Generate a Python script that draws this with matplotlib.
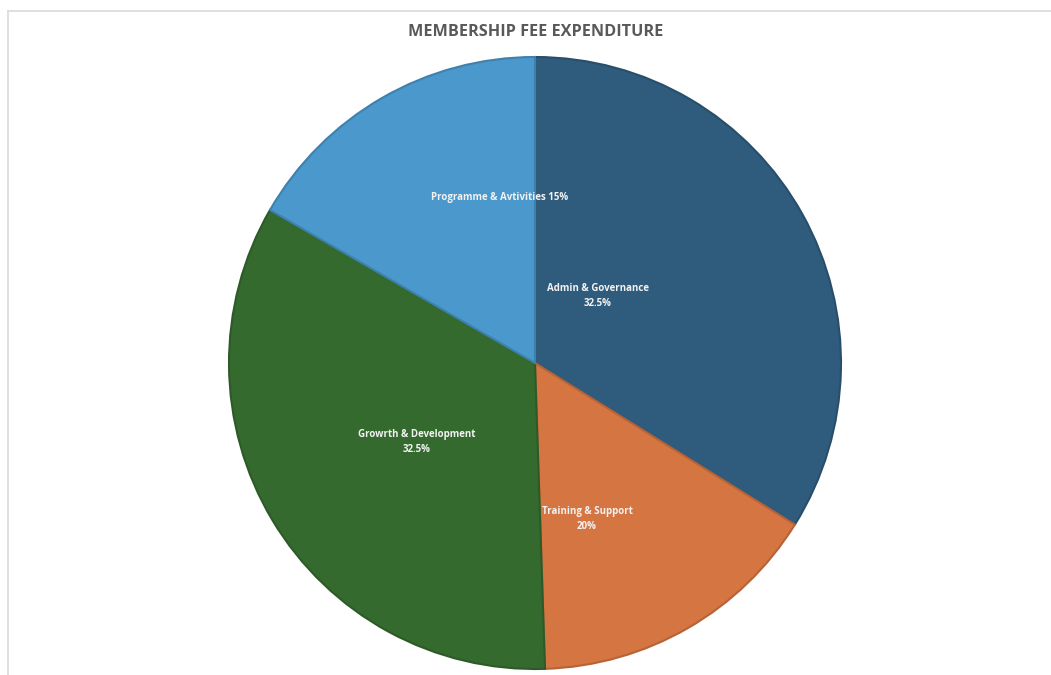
import matplotlib
matplotlib.use("Agg")
import matplotlib.pyplot as plt
from matplotlib.lines import Line2D
from matplotlib.colors import to_rgb

# slice sizes as drawn in the picture (labels carry the stated percentages)
categories = ["Admin & Governance", "Training & Support", "Growrth & Development", "Programme & Avtivities"]
values = [32.5, 15.0, 32.5, 16.0]
label_texts = ["Admin & Governance\n32.5%", "Training & Support\n20%",
               "Growrth & Development\n32.5%", "Programme & Avtivities 15%"]

colors = ["#2F5C7D", "#D57541", "#356A2F", "#4A98CC"]
label_pos = [(0.206, 0.219), (0.170, -0.511), (-0.387, -0.258), (-0.116, 0.541)]

W, H = 1051, 675
fig = plt.figure(figsize=(W / 100, H / 100), dpi=100)
fig.patch.set_facecolor("white")

cx, cy, r = 535, 363, 306
ax = fig.add_axes([(cx - r) / W, (H - cy - r) / H, 2 * r / W, 2 * r / H])

def darker(c, f=0.85):
    return tuple(v * f for v in to_rgb(c))

wedges, _ = ax.pie(values, colors=colors, startangle=90, counterclock=False,
                   radius=1.0, wedgeprops=dict(linewidth=1.5))
for w, c in zip(wedges, colors):
    w.set_edgecolor(darker(c))
    w.set_clip_on(False)
ax.set_xlim(-1, 1)
ax.set_ylim(-1, 1)
ax.set_aspect("equal")
ax.axis("off")

for txt, (x, y) in zip(label_texts, label_pos):
    ax.text(x, y, txt, ha="center", va="center", color="#F2F2F2",
            fontsize=7, fontweight="bold", family="Open Sans", linespacing=1.5)

fig.text(536 / W, 1 - 32 / H, "MEMBERSHIP FEE EXPENDITURE", ha="center", va="center",
         color="#595959", fontsize=11.7, fontweight="bold", family="Open Sans")

# light frame lines at top and left
fig.add_artist(Line2D([8 / W, 1], [1 - 10.5 / H, 1 - 10.5 / H], color="#DADADA", lw=1.2))
fig.add_artist(Line2D([8 / W, 8 / W], [0, 1 - 10.5 / H], color="#DADADA", lw=1.2))

fig.savefig("out.png", dpi=100)
